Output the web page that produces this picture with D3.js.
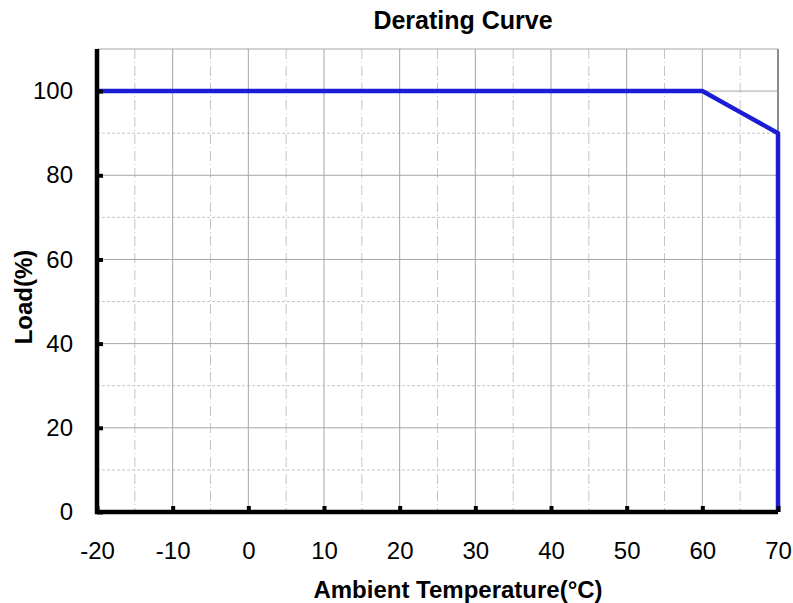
<!DOCTYPE html>
<html>
<head>
<meta charset="utf-8">
<script src="https://cdnjs.cloudflare.com/ajax/libs/d3/7.8.5/d3.min.js"></script>
<style>
  body { margin: 0; background: #fff; }
  text { font-family: Arial, "Liberation Sans", sans-serif; fill: #000; }
</style>
</head>
<body>
<script>
// data
var temps = [-20, 60, 65, 70, 70];
var loads = [100, 100, 95, 90, 0];
var xTicks = [-20, -10, 0, 10, 20, 30, 40, 50, 60, 70];
var yTicks = [0, 20, 40, 60, 80, 100];

var W = 793, H = 603;
var margin = {top: 49, right: 15, bottom: 91, left: 97},
    width = W - margin.left - margin.right,
    height = H - margin.top - margin.bottom;

var svg = d3.select("body")
  .append("svg")
  .attr("width", W)
  .attr("height", H);

var g = svg.append("g")
  .attr("transform", "translate(" + margin.left + "," + margin.top + ")");

var x = d3.scaleLinear().domain([-20, 70]).range([0, width]);
var y = d3.scaleLinear().domain([0, 110]).range([height, 0]);

// minor grid (dash-dot vertical every 5, dashed horizontal every 10)
var minorX = d3.range(-15, 70, 10);
var minorY = d3.range(10, 110, 20);
g.selectAll(".minx").data(minorX).enter().append("line")
  .attr("x1", d => x(d)).attr("x2", d => x(d))
  .attr("y1", 0).attr("y2", height)
  .attr("stroke", "#c4c4c4").attr("stroke-width", 1)
  .attr("stroke-dasharray", "10,3,1,3");
g.selectAll(".miny").data(minorY).enter().append("line")
  .attr("x1", 0).attr("x2", width)
  .attr("y1", d => y(d)).attr("y2", d => y(d))
  .attr("stroke", "#c4c4c4").attr("stroke-width", 1)
  .attr("stroke-dasharray", "3,2");

// major grid
g.selectAll(".majx").data(xTicks.slice(1)).enter().append("line")
  .attr("x1", d => x(d)).attr("x2", d => x(d))
  .attr("y1", 0).attr("y2", height)
  .attr("stroke", "#a6a6a6").attr("stroke-width", 1);
g.selectAll(".majy").data(yTicks.slice(1).concat([110])).enter().append("line")
  .attr("x1", 0).attr("x2", width)
  .attr("y1", d => y(d)).attr("y2", d => y(d))
  .attr("stroke", "#a6a6a6").attr("stroke-width", 1);

// right border
g.append("line")
  .attr("x1", width).attr("x2", width)
  .attr("y1", 0).attr("y2", height)
  .attr("stroke", "#8c8c8c").attr("stroke-width", 2);

// curve
var line = d3.line()
  .x((d, i) => x(temps[i]))
  .y((d, i) => y(loads[i]));
g.append("path")
  .datum(loads)
  .attr("d", line)
  .attr("fill", "none")
  .attr("stroke", "#1c1cd4")
  .attr("stroke-width", 4.5)
  .attr("stroke-linejoin", "round");

// axes (thick black, inward ticks)
var fmt = d => String(d);
var xAxis = g.append("g")
  .attr("transform", "translate(0," + height + ")")
  .call(d3.axisBottom(x).tickValues(xTicks).tickFormat(fmt).tickSize(-6).tickPadding(30));
var yAxis = g.append("g")
  .call(d3.axisLeft(y).tickValues(yTicks).tickFormat(fmt).tickSize(-6).tickPadding(25));

[xAxis, yAxis].forEach(function(a) {
  a.select(".domain").attr("stroke", "#000").attr("stroke-width", 4.5);
  a.selectAll(".tick line").attr("stroke", "#000").attr("stroke-width", 4);
  a.selectAll(".tick text")
    .attr("font-size", 24)
    .attr("font-family", "Arial, 'Liberation Sans', sans-serif");
});
xAxis.select(".domain").attr("d", "M-2,0H" + width);
yAxis.select(".domain").attr("d", "M0,0V" + (height + 2));
xAxis.selectAll(".tick text").attr("dy", "0.71em").attr("y", 30);
yAxis.selectAll(".tick text").attr("x", -24);

// titles
svg.append("text")
  .attr("x", 463).attr("y", 29)
  .attr("text-anchor", "middle")
  .attr("font-size", 25).attr("font-weight", "bold")
  .text("Derating Curve");

svg.append("text")
  .attr("x", 458).attr("y", 598)
  .attr("text-anchor", "middle")
  .attr("font-size", 24).attr("font-weight", "bold")
  .text("Ambient Temperature(°C)");

svg.append("text")
  .attr("transform", "translate(32,297) rotate(-90)")
  .attr("text-anchor", "middle")
  .attr("font-size", 24).attr("font-weight", "bold")
  .text("Load(%)");
</script>
</body>
</html>
